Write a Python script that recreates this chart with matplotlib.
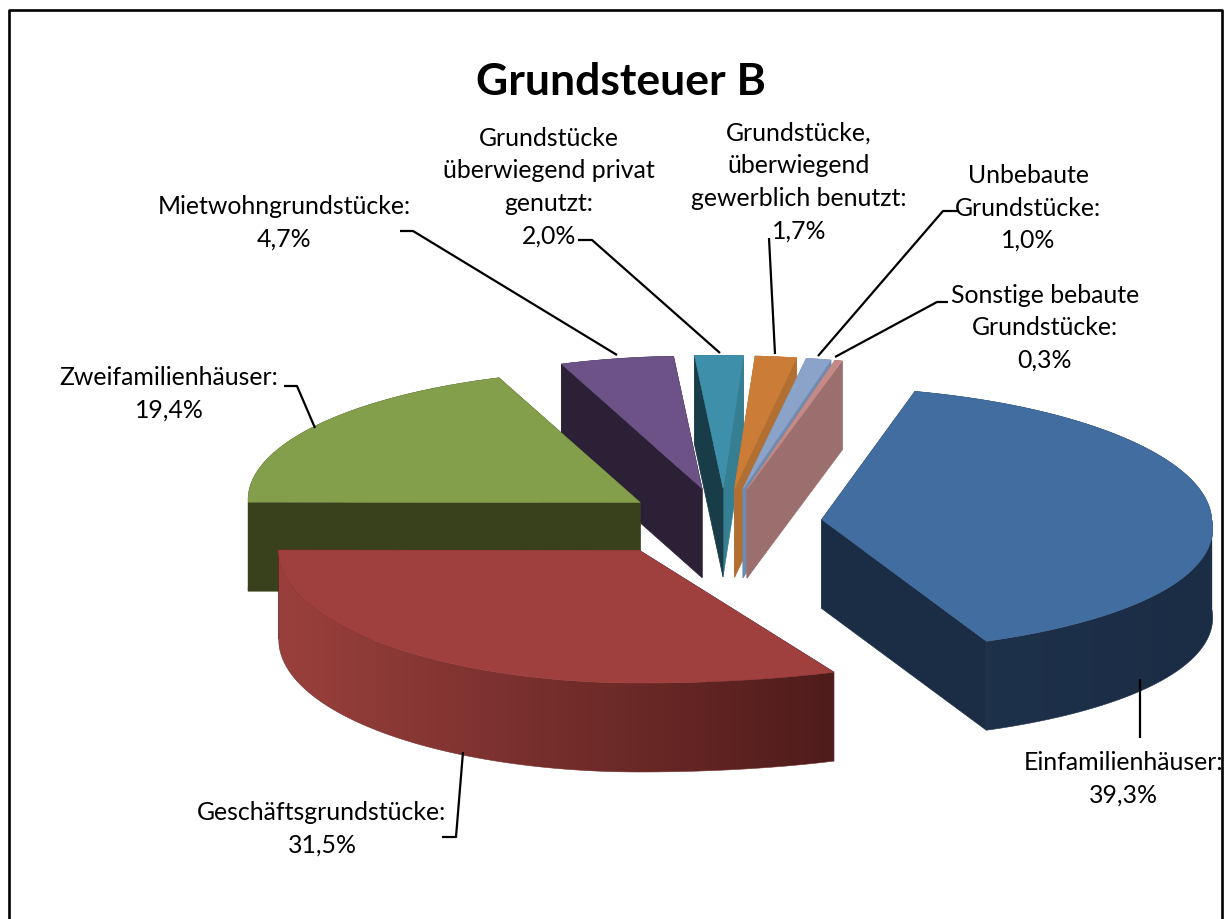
import numpy as np
import matplotlib
matplotlib.use("Agg")
import matplotlib.pyplot as plt
from matplotlib.colors import to_rgb
from matplotlib.patches import Polygon

plt.rcParams['font.family'] = ['Lato', 'DejaVu Sans']

names = ['Einfamilienhäuser', 'Geschäftsgrundstücke', 'Zweifamilienhäuser', 'Mietwohngrundstücke',
         'Grundstücke\nüberwiegend privat\ngenutzt', 'Grundstücke,\nüberwiegend\ngewerblich benutzt',
         'Unbebaute\nGrundstücke', 'Sonstige bebaute\nGrundstücke']
values = [39.3, 31.5, 19.4, 4.7, 2.0, 1.7, 1.0, 0.3]

top_colors = ['#426DA0', '#A0403E', '#849F4B', '#6D5287', '#3E8FA9', '#CB7D38', '#8BA3C8', '#C58A87']
start_faces = ['#1B2D45', '#1B2D45', '#38401C', '#2B2036', '#183C48', '#B26F32', '#6E8BB0', '#9C6F6F']
end_faces = ['#1B2D45', '#4F1C1B', '#38401C', '#2B2036', '#367F93', '#B26F32', '#6E8BB0', '#9C6F6F']
rim_left = ['#1F324C', '#9A403C', '#38401C', '#2B2036', '#183C48', '#B26F32', '#6E8BB0', '#9C6F6F']
rim_right = ['#1B2D45', '#4F1C1B', '#38401C', '#2B2036', '#367F93', '#B26F32', '#6E8BB0', '#9C6F6F']

# geometry of the tilted pie, in pixels
cx, cy = 722, 523
radius = 390
tilt = 0.34
depth = 89
explode = 100
first_angle = 15
far_lean = 8
explode_x = [1, 1.5, 1, 1, 1, 1, 1, 1]
radius_x = [1, 0.925, 1.005, 1, 1, 1, 1.02, 1.02]
flare = [0.07, 0.39, 0, 0, 0, 0, 0, 0]
draw_order = [3, 4, 5, 6, 7, 2, 0, 1]

# label text centres and leader lines
label_pos = [(1123, 779), (322, 829), (169, 394), (284, 223), (549, 187), (799, 182), (1028, 208), (1045, 328)]
leaders = [[(1140, 680), (1140, 739)],
           [(463, 753), (456, 838), (442, 838)],
           [(284, 387), (297, 387), (315, 429)],
           [(400, 232), (413, 232), (617, 356)],
           [(578, 241), (592, 241), (720, 354)],
           [(769, 239), (775, 355)],
           [(958, 212), (943, 212), (818, 357)],
           [(948, 303), (937, 303), (835, 358)]]


def rim_point(theta, apex, i):
    X, Y = np.sin(theta), np.cos(theta)
    sx = X * radius * radius_x[i]
    if X > 0 and Y < 0:
        sx *= 1 + flare[i] * (-Y)
    if Y > 0:
        sx -= far_lean * Y
    return apex[0] + sx, apex[1] - Y * radius * tilt


def quad(a, b):
    return [a, b, (b[0], b[1] + depth), (a[0], a[1] + depth)]


def draw_rim(ax, part, i, x_range, z):
    # outer wall of the slice, shaded from left to right
    if len(part) < 2:
        return
    outline = part + [(x, y + depth) for x, y in reversed(part)]
    steps = np.linspace(0, 1, 256)[:, None]
    left, right = np.array(to_rgb(rim_left[i])), np.array(to_rgb(rim_right[i]))
    shade = (left + (right - left) * steps)[None, :, :]
    ys = [p[1] for p in outline]
    im = ax.imshow(shade, extent=[x_range[0], x_range[1], max(ys), min(ys)], aspect='auto',
                   interpolation='bilinear', zorder=z)
    im.set_clip_path(Polygon(outline, transform=ax.transData))
    ax.fill(*zip(*outline), facecolor='none', edgecolor=shade[0, 128], lw=0.4, zorder=z)


def draw_slice(ax, i, t0, t1, z):
    mid = (t0 + t1) / 2
    apex = (cx + explode * explode_x[i] * np.sin(mid), cy - explode * tilt * np.cos(mid))
    thetas = np.linspace(t0, t1, max(int(np.degrees(t1 - t0) * 2), 4))
    rim = [rim_point(t, apex, i) for t in thetas]
    xs = [p[0] for p in rim]
    x_range = (min(xs), max(max(xs), min(xs) + 1))

    far = [p for p, t in zip(rim, thetas) if np.cos(t) > 0]
    near = [p for p, t in zip(rim, thetas) if np.cos(t) <= 0]
    draw_rim(ax, far, i, x_range, z)
    ax.fill(*zip(*quad(apex, rim[-1])), color=end_faces[i], lw=0.5, zorder=z + 0.1)
    ax.fill(*zip(*quad(apex, rim[0])), color=start_faces[i], lw=0.5, zorder=z + 0.2)
    draw_rim(ax, near, i, x_range, z + 0.3)
    ax.fill(*zip(*([apex] + rim)), color=top_colors[i], lw=0.4, zorder=z + 0.4)


fig = plt.figure(figsize=(12.3, 9.2), dpi=100)
ax = fig.add_axes([0, 0, 1, 1])
ax.set_xlim(0, 1230)
ax.set_ylim(920, 0)
ax.autoscale(False)
ax.axis('off')

edges = np.radians(first_angle + np.concatenate([[0], np.cumsum(values)]) * 360 / sum(values))
for z, i in enumerate(draw_order):
    draw_slice(ax, i, edges[i], edges[i + 1], z + 1)

for line in leaders:
    ax.plot(*zip(*line), color='black', lw=1.6, solid_capstyle='butt', zorder=20)

for name, v, pos in zip(names, values, label_pos):
    ax.text(pos[0], pos[1], f"{name}:\n{v:.1f}%".replace('.', ','), ha='center', va='center',
            fontsize=17.9, linespacing=1.5, color='black', zorder=21)

ax.text(621, 82, 'Grundsteuer B', ha='center', va='center', fontsize=32, fontweight='bold', zorder=21)

ax.plot([8.5, 8.5, 1222, 1222], [920, 10.5, 10.5, 920], color='black', lw=1.9, zorder=22)

fig.savefig('out.png', dpi=100)
